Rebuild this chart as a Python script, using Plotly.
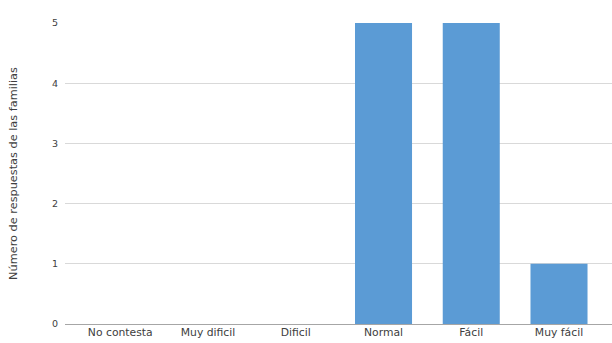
import plotly.graph_objects as go

categories = ["No contesta", "Muy dificil", "Dificil", "Normal", "Fácil", "Muy fácil"]
values = [0, 0, 0, 5, 5, 1]
y_ticks = [0, 1, 2, 3, 4, 5]
y_title = "Número de respuestas de las familias"

fig = go.Figure()
fig.add_trace(go.Bar(
    x=list(range(len(categories))), y=values,
    marker=dict(color="#5b9bd5", line=dict(width=0)),
    width=0.65,
))

font = "DejaVu Sans, sans-serif"
fig.update_layout(
    width=612, height=343,
    margin=dict(l=65, r=0, t=23, b=19),
    plot_bgcolor="white", paper_bgcolor="white",
    showlegend=False,
    font=dict(family=font, size=9, color="#404040"),
    xaxis=dict(
        range=[-0.63, 5.604],
        tickmode="array",
        tickvals=list(range(len(categories))),
        ticktext=categories,
        showgrid=False, zeroline=False,
        showline=False,
        ticks="", tickfont=dict(size=10.8, color="#404040"),
    ),
    yaxis=dict(
        range=[0, 5],
        tickmode="array", tickvals=y_ticks,
        showgrid=True, gridcolor="#d9d9d9", gridwidth=1,
        zeroline=True, zerolinecolor="#a6a6a6", zerolinewidth=1,
        ticks="", ticklabelstandoff=6,
        tickfont=dict(size=9.5, color="#404040"),
        title=dict(text=y_title, font=dict(size=11.3, color="#404040"), standoff=31),
    ),
)

fig.write_html("out.html")
